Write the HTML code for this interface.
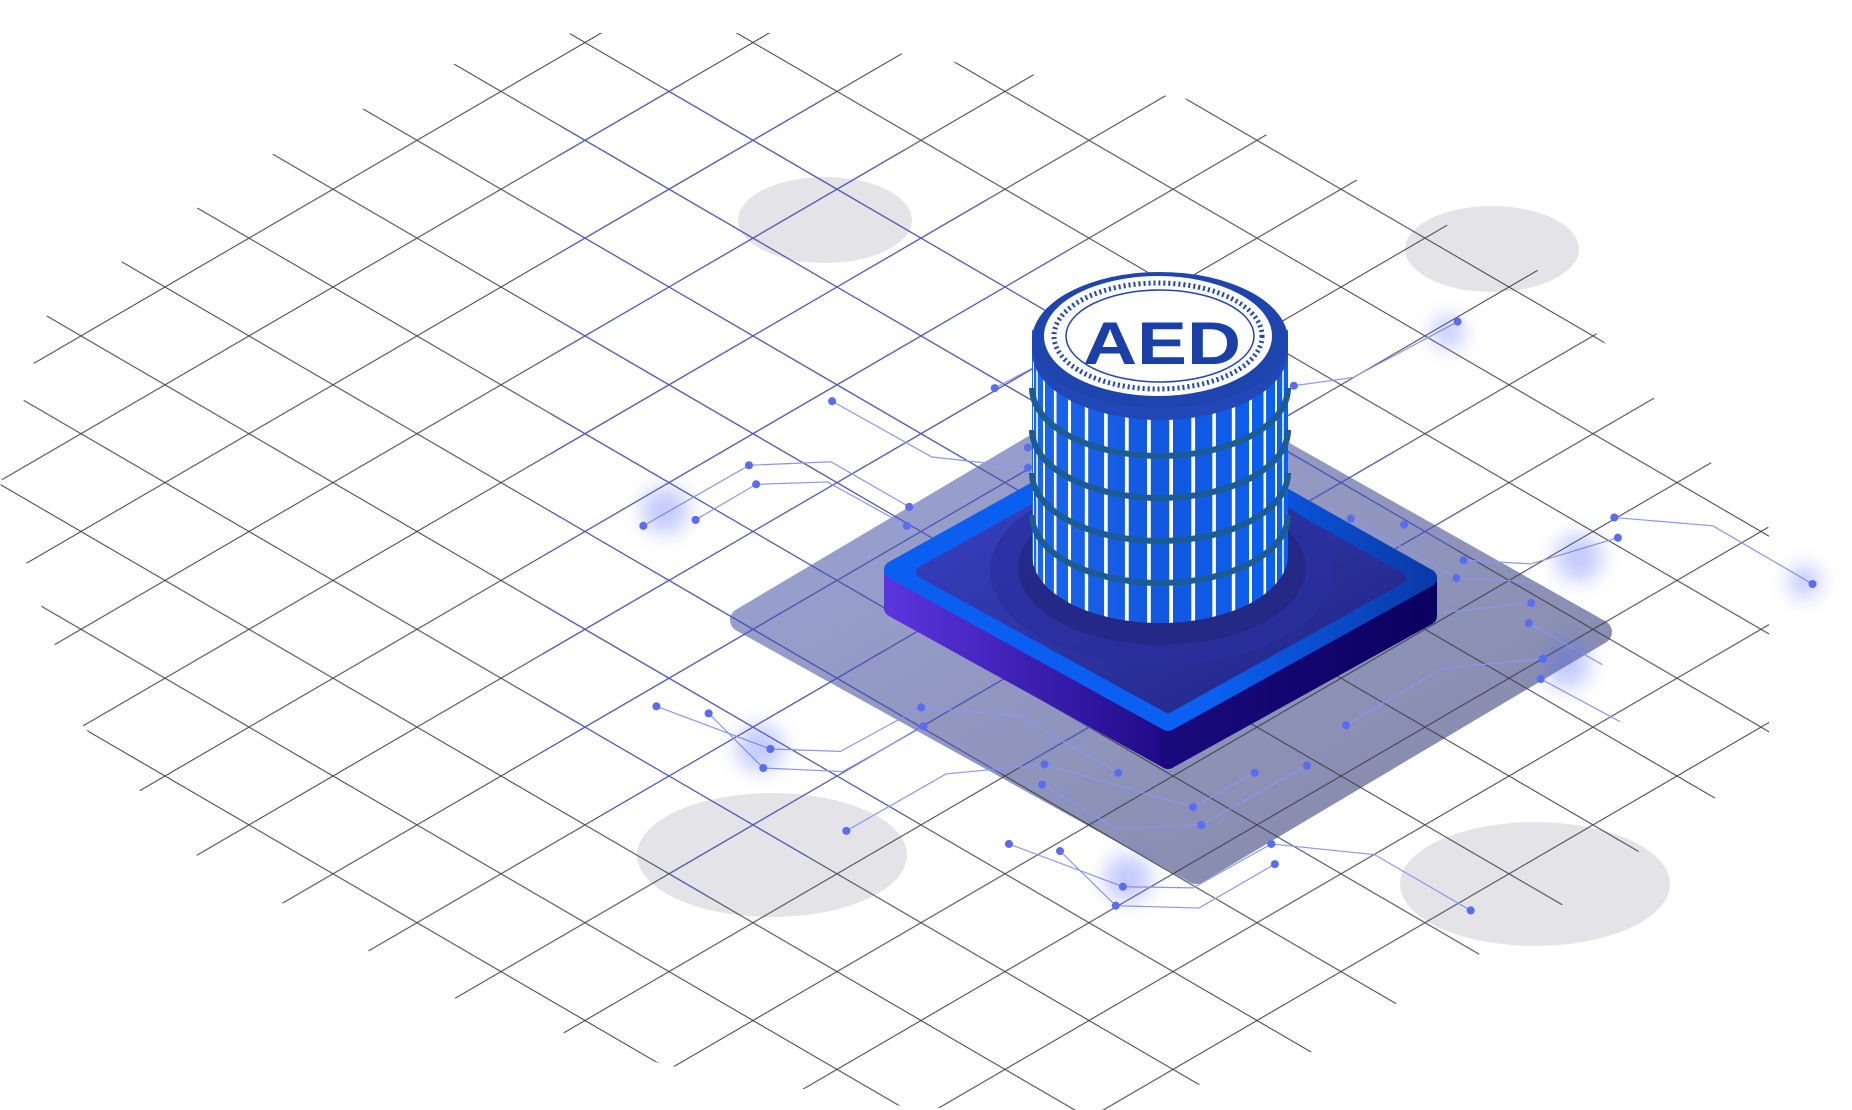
<!DOCTYPE html>
<html><head><meta charset="utf-8"><style>
html,body{margin:0;padding:0;background:#fff;}
svg{display:block;}
</style></head><body>
<svg width="1852" height="1110" viewBox="0 0 1852 1110" xmlns="http://www.w3.org/2000/svg">
<defs>
<pattern id="gk" patternUnits="userSpaceOnUse" x="81" y="42.5" width="168" height="97.8">
<line x1="0" y1="0" x2="168" y2="97.8" stroke="#3a3a44" stroke-width="1"/>
<line x1="0" y1="97.8" x2="168" y2="0" stroke="#3a3a44" stroke-width="1"/>
</pattern>
<pattern id="gb" patternUnits="userSpaceOnUse" x="81" y="42.5" width="168" height="97.8">
<line x1="0" y1="0" x2="168" y2="97.8" stroke="#4a55d0" stroke-width="1"/>
<line x1="0" y1="97.8" x2="168" y2="0" stroke="#4a55d0" stroke-width="1"/>
</pattern>
<linearGradient id="shd" x1="0" y1="0" x2="1" y2="1">
<stop offset="0" stop-color="#8d97d2"/><stop offset="1" stop-color="#6e7296"/></linearGradient>
<linearGradient id="ls" x1="0" y1="0" x2="1" y2="0">
<stop offset="0" stop-color="#5a34dc"/><stop offset="1" stop-color="#1e0a86"/></linearGradient>
<linearGradient id="rs" x1="0" y1="0" x2="1" y2="0">
<stop offset="0" stop-color="#1a0a7c"/><stop offset="1" stop-color="#0c0060"/></linearGradient>
<linearGradient id="tp" x1="0" y1="0" x2="1" y2="1">
<stop offset="0" stop-color="#3a44c8"/><stop offset="1" stop-color="#1f2480"/></linearGradient>
<linearGradient id="rim" x1="0" y1="0" x2="1" y2="0">
<stop offset="0" stop-color="#0a5ef0"/><stop offset="0.6" stop-color="#0a60f0"/><stop offset="1" stop-color="#0a3aa8"/></linearGradient>
<linearGradient id="cyl" x1="0" y1="0" x2="1" y2="0">
<stop offset="0" stop-color="#1a66ee"/><stop offset="0.5" stop-color="#1258e0"/><stop offset="1" stop-color="#0a60f0"/></linearGradient>
<clipPath id="cc"><path d="M1032,330 L1032,555 A128,68 0 0 0 1288,555 L1288,330 Z"/></clipPath>
<clipPath id="hull"><polygon points="572,33 772,33 1199,101 1543,273 1769,528 1769,760 1567,902 1318,1050 1092,1116 902,1106 665,1065 451,997 196,855 83,726 0,487 47,315 273,154 451,65"/></clipPath>
<filter id="bl" x="-1" y="-1" width="3" height="3"><feGaussianBlur stdDeviation="8"/></filter>
</defs>

<ellipse cx="825" cy="220" rx="87" ry="43" fill="#e4e4e8"/>
<ellipse cx="1492" cy="249" rx="87" ry="43" fill="#e4e4e8"/>
<ellipse cx="772" cy="855" rx="135" ry="62" fill="#e4e4e8"/>
<ellipse cx="1535" cy="884" rx="135" ry="62" fill="#e4e4e8"/>

<path d="M742,620 L1150,378 L1600,632 L1196,872 Z" fill="url(#shd)" stroke="url(#shd)" stroke-width="24" stroke-linejoin="round" opacity="0.85"/>

<g clip-path="url(#hull)">
<rect x="0" y="0" width="1852" height="1110" fill="url(#gk)" opacity="0.95"/>
<polygon points="560,120 760,60 1500,520 1300,650 700,900 540,760" fill="url(#gb)" opacity="0.9"/>
</g>

<g transform="scale(1.187)" fill="none" stroke="#8a96f2" stroke-width="1">
<polyline points="701,338 785,385 866,394"/>
<polyline points="542,443 631,392 700,389 766,427"/>
<polyline points="586,438 637,408 697,406 764,443"/>
<polyline points="838,327 870,310"/>
<polyline points="1228,271 1140,318 1090,325"/>
<polyline points="1360,436 1443,443 1527,492"/>
<polyline points="1363,453 1290,475 1233,472"/>
<polyline points="1138,437 1227,487 1290,490"/>
<polyline points="1290,508 1215,516"/>
<polyline points="1288,525 1350,560"/>
<polyline points="1300,555 1215,563 1134,611"/>
<polyline points="1298,572 1365,608"/>
<polyline points="553,595 649,631 708,633 776,596 858,603 942,651"/>
<polyline points="597,601 643,647 710,650 778,612"/>
<polyline points="713,700 797,652 880,644 1005,680 1057,651"/>
<polyline points="878,661 940,698 1012,695 1101,645"/>
<polyline points="850,711 946,747 1005,748 1071,711 1158,720 1239,767"/>
<polyline points="893,717 940,763 1010,765 1074,728"/>
</g>
<g transform="scale(1.187)" fill="#5a6cf2">
<g opacity="0.35" filter="url(#bl)">
<circle cx="560" cy="430" r="20"/><circle cx="640" cy="630" r="20"/><circle cx="1330" cy="470" r="20"/><circle cx="1320" cy="560" r="20"/><circle cx="950" cy="740" r="20"/><circle cx="1220" cy="280" r="14"/><circle cx="1520" cy="490" r="14"/>
</g>
<circle cx="701" cy="338" r="3.4"/><circle cx="866" cy="394" r="3.4"/><circle cx="542" cy="443" r="3.4"/><circle cx="631" cy="392" r="3.4"/><circle cx="766" cy="427" r="3.4"/>
<circle cx="586" cy="438" r="3.4"/><circle cx="637" cy="408" r="3.4"/><circle cx="764" cy="443" r="3.4"/><circle cx="838" cy="327" r="3.4"/><circle cx="866" cy="377" r="3.4"/>
<circle cx="1228" cy="271" r="3.4"/><circle cx="1090" cy="325" r="3.4"/><circle cx="1360" cy="436" r="3.4"/><circle cx="1527" cy="492" r="3.4"/><circle cx="1363" cy="453" r="3.4"/><circle cx="1233" cy="472" r="3.4"/>
<circle cx="1138" cy="437" r="3.4"/><circle cx="1183" cy="442" r="3.4"/><circle cx="1227" cy="487" r="3.4"/><circle cx="1290" cy="508" r="3.4"/><circle cx="1288" cy="525" r="3.4"/><circle cx="1300" cy="555" r="3.4"/><circle cx="1134" cy="611" r="3.4"/><circle cx="1298" cy="572" r="3.4"/>
<circle cx="553" cy="595" r="3.4"/><circle cx="649" cy="631" r="3.4"/><circle cx="776" cy="596" r="3.4"/><circle cx="942" cy="651" r="3.4"/><circle cx="597" cy="601" r="3.4"/><circle cx="643" cy="647" r="3.4"/><circle cx="778" cy="612" r="3.4"/>
<circle cx="713" cy="700" r="3.4"/><circle cx="880" cy="644" r="3.4"/><circle cx="1005" cy="680" r="3.4"/><circle cx="1057" cy="651" r="3.4"/><circle cx="878" cy="661" r="3.4"/><circle cx="1012" cy="695" r="3.4"/><circle cx="1101" cy="645" r="3.4"/>
<circle cx="850" cy="711" r="3.4"/><circle cx="946" cy="747" r="3.4"/><circle cx="1071" cy="711" r="3.4"/><circle cx="1239" cy="767" r="3.4"/><circle cx="893" cy="717" r="3.4"/><circle cx="940" cy="763" r="3.4"/><circle cx="1074" cy="728" r="3.4"/>
</g>

<path d="M893,570 L1168,722 L1168,760 L893,608 Z" fill="url(#ls)" stroke="url(#ls)" stroke-width="18" stroke-linejoin="round"/>
<path d="M1168,722 L1428,578 L1428,616 L1168,760 Z" fill="url(#rs)" stroke="url(#rs)" stroke-width="18" stroke-linejoin="round"/>
<path d="M893,570 L1155,424 L1428,578 L1168,722 Z" fill="url(#rim)" stroke="url(#rim)" stroke-width="18" stroke-linejoin="round"/>
<path d="M922,572 L1156,442 L1400,578 L1168,707 Z" fill="url(#tp)" stroke="url(#tp)" stroke-width="12" stroke-linejoin="round"/>
<ellipse cx="1162" cy="571" rx="172" ry="94" fill="#2a2f9c" opacity="0.7"/>
<ellipse cx="1162" cy="568" rx="144" ry="77" fill="#22277e" opacity="0.7"/>

<path d="M1032,330 L1032,555 A128,68 0 0 0 1288,555 L1288,330 Z" fill="url(#cyl)"/>
<g clip-path="url(#cc)" stroke="#ffffff">
<line x1="1033.5" y1="330" x2="1033.5" y2="640" stroke-width="1"/>
<line x1="1037" y1="330" x2="1037" y2="640" stroke-width="1.5"/>
<line x1="1044" y1="330" x2="1044" y2="640" stroke-width="2"/>
<line x1="1055.2" y1="330" x2="1055.2" y2="640" stroke-width="2.6"/>
<line x1="1069.5" y1="330" x2="1069.5" y2="640" stroke-width="3"/>
<line x1="1086.5" y1="330" x2="1086.5" y2="640" stroke-width="3.4"/>
<line x1="1105.9" y1="330" x2="1105.9" y2="640" stroke-width="3.6"/>
<line x1="1126.8" y1="330" x2="1126.8" y2="640" stroke-width="3.8"/>
<line x1="1148.9" y1="330" x2="1148.9" y2="640" stroke-width="3.8"/>
<line x1="1171.1" y1="330" x2="1171.1" y2="640" stroke-width="3.8"/>
<line x1="1193.2" y1="330" x2="1193.2" y2="640" stroke-width="3.8"/>
<line x1="1214.1" y1="330" x2="1214.1" y2="640" stroke-width="3.6"/>
<line x1="1233.5" y1="330" x2="1233.5" y2="640" stroke-width="3.4"/>
<line x1="1250.5" y1="330" x2="1250.5" y2="640" stroke-width="3"/>
<line x1="1264.8" y1="330" x2="1264.8" y2="640" stroke-width="2.6"/>
<line x1="1276" y1="330" x2="1276" y2="640" stroke-width="2"/>
<line x1="1283" y1="330" x2="1283" y2="640" stroke-width="1.5"/>
</g>
<g fill="none" stroke="#1c5c92" stroke-width="6">
<path d="M1032,388 A128,68 0 0 0 1288,388"/>
<path d="M1032,430 A128,68 0 0 0 1288,430"/>
<path d="M1032,473 A128,68 0 0 0 1288,473"/>
<path d="M1032,515 A128,68 0 0 0 1288,515"/>
</g>
<path d="M1032,340 L1032,352 A128,68 0 0 0 1288,352 L1288,340 Z" fill="#2248b8"/>
<ellipse cx="1160" cy="340" rx="128" ry="68" fill="#1e44ae"/>
<ellipse cx="1158" cy="336" rx="114" ry="60" fill="#ffffff"/>
<ellipse cx="1158" cy="336" rx="104" ry="53" fill="none" stroke="#1e44ae" stroke-width="5" stroke-dasharray="2 3"/>
<ellipse cx="1160" cy="336" rx="94" ry="46" fill="none" stroke="#1e44ae" stroke-width="1.5"/>
<text x="1083" y="364" font-family="'Liberation Sans', sans-serif" font-weight="bold" font-size="60" fill="#1a40a8" textLength="158" lengthAdjust="spacingAndGlyphs">AED</text>
</svg>
</body></html>
